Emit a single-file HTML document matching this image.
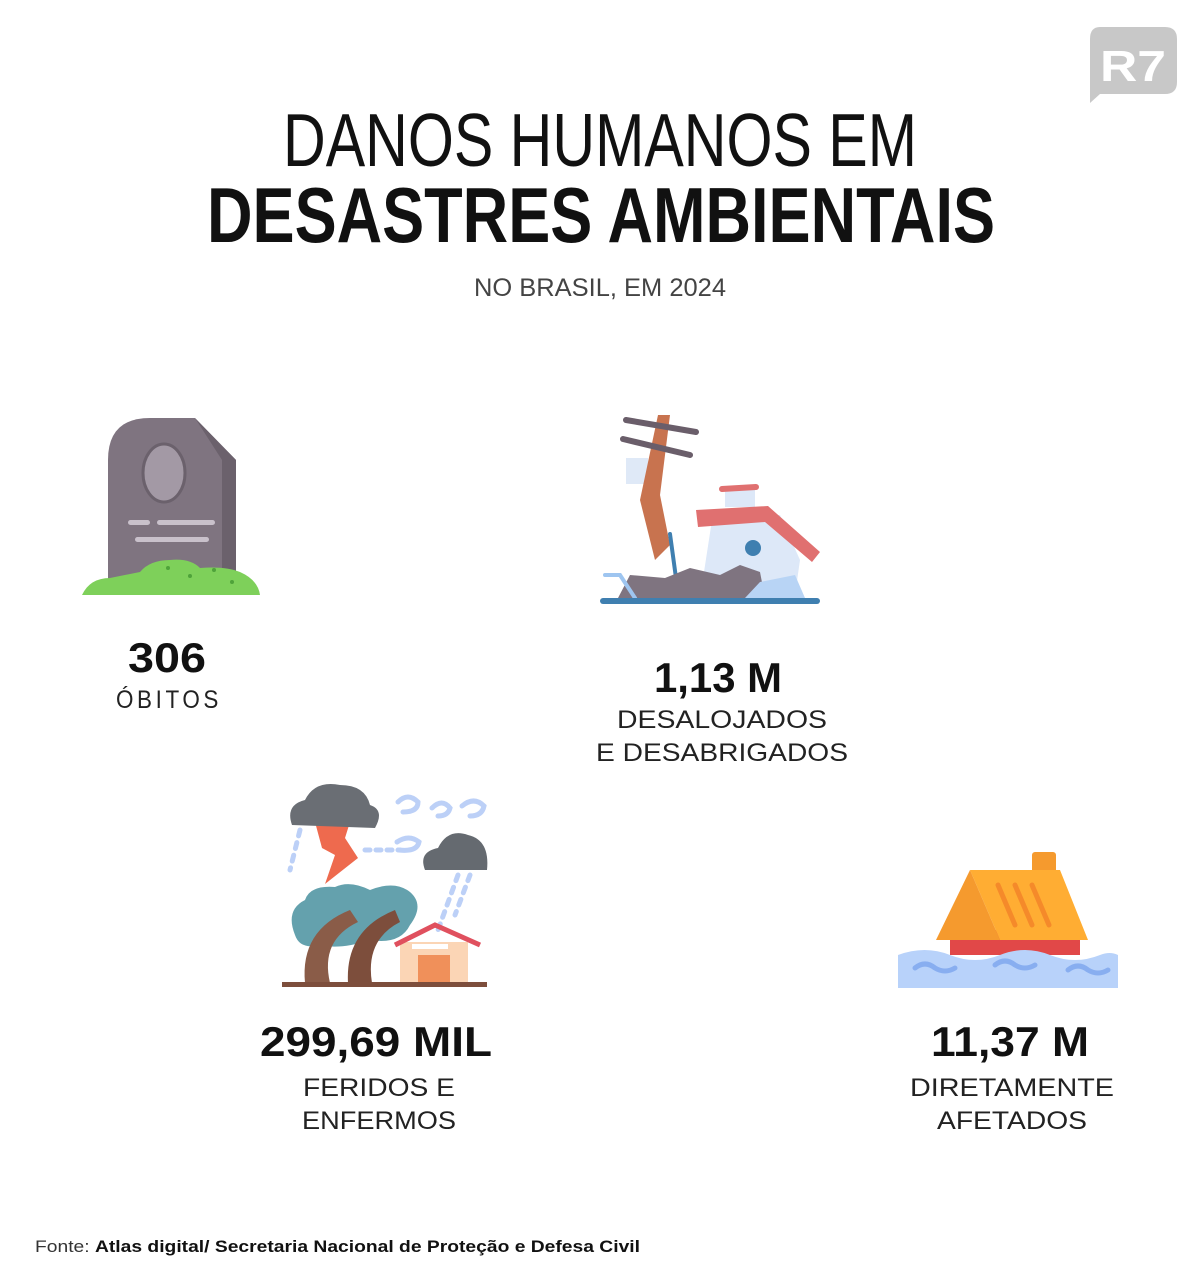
<!DOCTYPE html>
<html><head><meta charset="utf-8"><style>
html,body{margin:0;padding:0;background:#fff;}
svg{display:block;}
text{font-family:"Liberation Sans",sans-serif;fill:#111;}
</style></head><body>
<svg width="1200" height="1278" viewBox="0 0 1200 1278" xmlns="http://www.w3.org/2000/svg">
<rect width="1200" height="1278" fill="#fff"/>
<!-- R7 logo -->
<path d="M1100 27 H1165 Q1177 27 1177 39 V82 Q1177 94 1165 94 H1100 L1090 103 V39 Q1090 27 1100 27 Z" fill="#c8c8c8"/>
<text x="1133" y="81" text-anchor="middle" font-size="44" font-weight="bold" style="fill:#fff" textLength="66" lengthAdjust="spacingAndGlyphs">R7</text>
<!-- Title -->
<text x="600" y="166" text-anchor="middle" font-size="75" font-weight="300" textLength="634" lengthAdjust="spacingAndGlyphs" style="fill:#111">DANOS HUMANOS EM</text>
<text x="601" y="242" text-anchor="middle" font-size="78" font-weight="bold" textLength="788" lengthAdjust="spacingAndGlyphs">DESASTRES AMBIENTAIS</text>
<text x="600" y="296" text-anchor="middle" font-size="25" textLength="252" lengthAdjust="spacingAndGlyphs" style="fill:#444">NO BRASIL, EM 2024</text>

<!-- Tombstone -->
<path d="M108 460 Q108 418 150 418 H195 L236 460 V585 H108 Z" fill="#7f7480"/>
<path d="M195 418 L236 460 V585 H222 V460 Z" fill="#6b616c"/>
<ellipse cx="164" cy="473" rx="21" ry="29" fill="#a399a5" stroke="#6b616c" stroke-width="3"/>
<rect x="128" y="520" width="22" height="5" rx="2.5" fill="#c9c1cb"/>
<rect x="157" y="520" width="58" height="5" rx="2.5" fill="#c9c1cb"/>
<rect x="135" y="537" width="74" height="5" rx="2.5" fill="#c9c1cb"/>
<path d="M82 595 Q90 578 110 578 Q125 575 140 572 Q150 560 170 560 Q190 558 200 568 Q225 566 240 572 Q258 580 260 595 Z" fill="#7ed05a"/>
<circle cx="168" cy="568" r="2" fill="#4fa33a"/><circle cx="190" cy="576" r="2" fill="#4fa33a"/><circle cx="232" cy="582" r="2" fill="#4fa33a"/><circle cx="214" cy="570" r="2" fill="#4fa33a"/>
<text x="167" y="672" text-anchor="middle" font-size="42" font-weight="bold" textLength="78" lengthAdjust="spacingAndGlyphs">306</text>
<text x="169" y="708" text-anchor="middle" font-size="25" letter-spacing="4" textLength="106" lengthAdjust="spacingAndGlyphs" style="fill:#222">ÓBITOS</text>

<!-- Collapsed house -->
<rect x="626" y="458" width="22" height="26" fill="#dfe9f7"/>
<path d="M658 415 L670 415 L660 495 L670 545 L655 560 L640 500 Z" fill="#c8734f"/>
<line x1="626" y1="420" x2="696" y2="432" stroke="#6a5e6a" stroke-width="6" stroke-linecap="round"/>
<line x1="623" y1="439" x2="690" y2="455" stroke="#6a5e6a" stroke-width="6" stroke-linecap="round"/>
<path d="M712 520 L780 515 L800 560 L795 595 L700 598 Z" fill="#dde8f8"/>
<rect x="725" y="487" width="30" height="20" fill="#dde8f8"/>
<line x1="722" y1="489" x2="756" y2="487" stroke="#e07070" stroke-width="6" stroke-linecap="round"/>
<path d="M696 510 L768 506 L820 552 L812 562 L765 522 L698 527 Z" fill="#e07070"/>
<circle cx="753" cy="548" r="8" fill="#3f7fb0"/>
<line x1="670" y1="534" x2="676" y2="578" stroke="#3f7fb0" stroke-width="4" stroke-linecap="round"/>
<path d="M618 598 L630 575 L665 578 L690 568 L720 575 L740 565 L760 572 L765 598 Z" fill="#7f7480"/>
<path d="M745 598 L760 582 L795 575 L805 598 Z" fill="#b8d4f5"/>
<path d="M605 575 L620 575 L635 598" stroke="#9ec5f0" stroke-width="4" fill="none" stroke-linecap="round"/>
<rect x="600" y="598" width="220" height="6" rx="3" fill="#3f7fb0"/>
<text x="718" y="692" text-anchor="middle" font-size="42" font-weight="bold" textLength="128" lengthAdjust="spacingAndGlyphs">1,13 M</text>
<text x="722" y="728" text-anchor="middle" font-size="25" textLength="210" lengthAdjust="spacingAndGlyphs" style="fill:#222">DESALOJADOS</text>
<text x="722" y="761" text-anchor="middle" font-size="25" textLength="252" lengthAdjust="spacingAndGlyphs" style="fill:#222">E DESABRIGADOS</text>

<!-- Storm -->
<g fill="none" stroke="#bcd0f7" stroke-width="5" stroke-linecap="round">
<path d="M398 802 q10 -10 20 0 q0 10 -15 10"/><path d="M432 808 q10 -10 18 0 q-2 8 -12 8"/>
<path d="M462 806 q12 -10 22 0 q-2 10 -14 10"/><path d="M397 842 q12 -8 22 0 q-2 10 -20 8"/>
<path d="M365 850 h35" stroke-dasharray="5 6"/>
<path d="M300 830 l-10 40" stroke-dasharray="6 7"/><path d="M458 875 l-20 55" stroke-dasharray="6 7"/><path d="M470 875 l-15 40" stroke-dasharray="6 7"/>
</g>
<path d="M315 822 L350 822 L345 838 L358 858 L325 884 L335 855 L322 848 Z" fill="#ee6a4e"/>
<path d="M292 825 Q285 805 305 800 Q315 780 340 785 Q365 785 370 805 Q385 810 375 828 Z" fill="#6a6e74"/>
<path d="M425 870 Q418 852 438 848 Q448 828 468 835 Q490 840 487 870 Z" fill="#656a70"/>
<path d="M295 935 Q285 910 305 900 Q310 885 335 887 Q350 880 370 890 Q395 880 410 892 Q425 905 410 925 Q400 945 370 940 Q340 950 320 945 Q300 950 295 935Z" fill="#64a1ad"/>
<path d="M305 983 Q300 930 350 910 L358 922 Q320 940 330 983 Z" fill="#8a5c48"/>
<path d="M348 983 Q345 930 395 910 L400 922 Q365 940 372 983 Z" fill="#7d4e3c"/>
<rect x="400" y="942" width="68" height="42" fill="#fbd5b5"/>
<path d="M395 945 L435 925 L480 945" stroke="#e0505e" stroke-width="5" fill="none"/>
<rect x="412" y="944" width="36" height="5" fill="#fff"/>
<rect x="418" y="955" width="32" height="29" fill="#f0905a"/>
<rect x="282" y="982" width="205" height="5" fill="#7d4e3c"/>
<text x="376" y="1056" text-anchor="middle" font-size="42" font-weight="bold" textLength="232" lengthAdjust="spacingAndGlyphs">299,69 MIL</text>
<text x="379" y="1096" text-anchor="middle" font-size="25" textLength="152" lengthAdjust="spacingAndGlyphs" style="fill:#222">FERIDOS E</text>
<text x="379" y="1129" text-anchor="middle" font-size="25" textLength="154" lengthAdjust="spacingAndGlyphs" style="fill:#222">ENFERMOS</text>

<!-- Flooded house -->
<rect x="1032" y="852" width="24" height="22" rx="3" fill="#f59a2e"/>
<rect x="950" y="930" width="130" height="25" fill="#e14848"/>
<path d="M970 870 L1060 870 L1088 940 L1000 940 Z" fill="#ffad33"/>
<path d="M970 870 L1000 940 L936 940 Z" fill="#f59a2e"/>
<g stroke="#f58a2a" stroke-width="5" stroke-linecap="round"><line x1="998" y1="885" x2="1015" y2="925"/><line x1="1015" y1="885" x2="1032" y2="925"/><line x1="1032" y1="885" x2="1049" y2="925"/></g>
<path d="M898 955 Q925 945 950 955 Q975 965 1000 955 Q1025 945 1050 955 Q1075 965 1100 955 Q1110 951 1118 955 V988 H898 Z" fill="#b8d2fa"/>
<g stroke="#88aef0" stroke-width="5" fill="none" stroke-linecap="round"><path d="M915 968 q10 -8 20 0 q10 6 20 0"/><path d="M995 965 q10 -8 20 0 q10 6 20 0"/><path d="M1068 970 q10 -8 20 0 q10 6 20 0"/></g>
<text x="1010" y="1056" text-anchor="middle" font-size="42" font-weight="bold" textLength="158" lengthAdjust="spacingAndGlyphs">11,37 M</text>
<text x="1012" y="1096" text-anchor="middle" font-size="25" textLength="204" lengthAdjust="spacingAndGlyphs" style="fill:#222">DIRETAMENTE</text>
<text x="1012" y="1129" text-anchor="middle" font-size="25" textLength="150" lengthAdjust="spacingAndGlyphs" style="fill:#222">AFETADOS</text>

<!-- Source -->
<text x="35" y="1252" font-size="17" textLength="605" lengthAdjust="spacingAndGlyphs"><tspan style="fill:#333">Fonte: </tspan><tspan font-weight="bold">Atlas digital/ Secretaria Nacional de Proteção e Defesa Civil</tspan></text>
</svg>
</body></html>
